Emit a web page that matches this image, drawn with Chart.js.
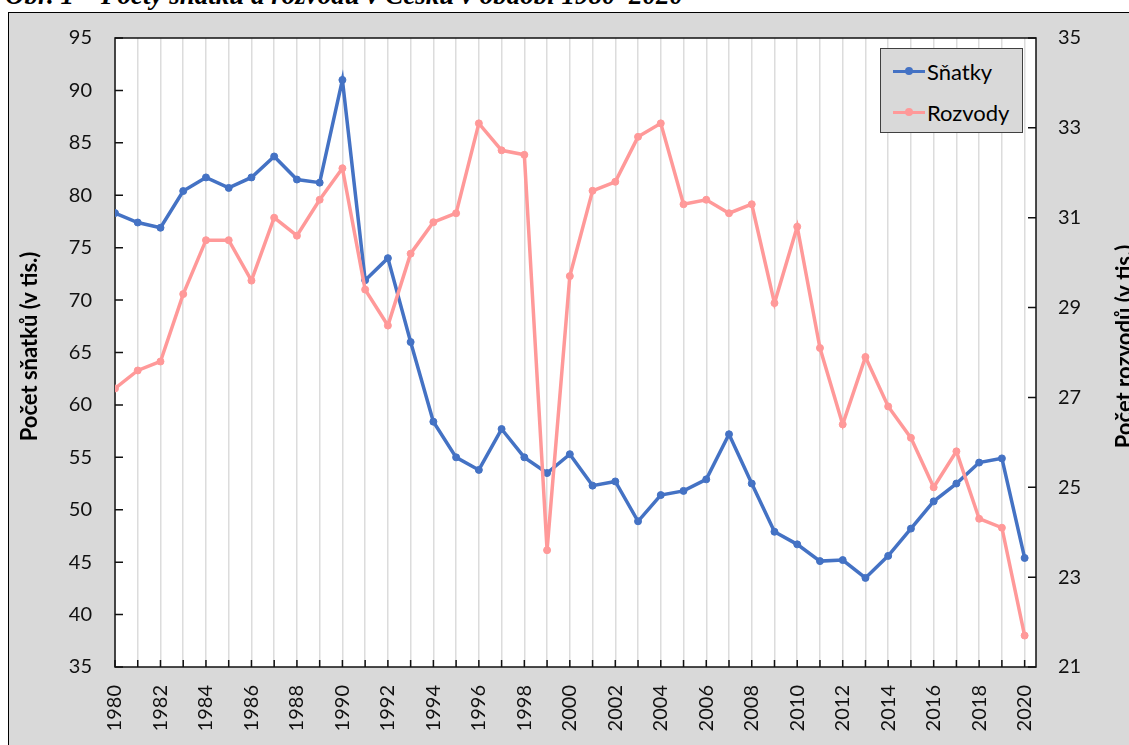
<!DOCTYPE html>
<html lang="cs">
<head>
<meta charset="utf-8">
<title>Sňatky a rozvody 1980–2020</title>
<script src="https://cdn.jsdelivr.net/npm/chart.js@4/dist/chart.umd.min.js"></script>
<style>
  html, body { margin: 0; padding: 0; width: 1129px; height: 745px; overflow: hidden; background: #fff; }
  #title { position: absolute; left: 5px; top: -18px; font: bold italic 27px/27px "Liberation Serif", serif; white-space: nowrap; color: #000; }
  #frame { position: absolute; left: 8px; top: 12px; width: 1200px; height: 800px; background: #d9d9d9; border: 1px solid #000; }
  #chart { position: absolute; left: 0; top: 0; }
  #legend { position: absolute; left: 880px; top: 48px; width: 141px; height: 83px; background: #d9d9d9; border: 1.5px solid #404040; font: 22px Lato, sans-serif; color: #000; }
  .item { position: absolute; left: 12px; height: 26px; display: flex; align-items: center; }
  .swatch { position: relative; width: 32px; height: 3px; margin-right: 2px; }
  .swatch i { position: absolute; left: 12px; top: -2.5px; width: 8px; height: 8px; border-radius: 50%; }
</style>
</head>
<body>
<div id="title">Obr. 1 – Počty sňatků a rozvodů v Česku v období 1980–2020</div>
<div id="frame"></div>
<canvas id="chart" width="1129" height="745"></canvas>
<div id="legend"></div>
<script>
// --- data (v tis.) ---
const years = [1980, 1981, 1982, 1983, 1984, 1985, 1986, 1987, 1988, 1989,
  1990, 1991, 1992, 1993, 1994, 1995, 1996, 1997, 1998, 1999,
  2000, 2001, 2002, 2003, 2004, 2005, 2006, 2007, 2008, 2009,
  2010, 2011, 2012, 2013, 2014, 2015, 2016, 2017, 2018, 2019, 2020];
const snatky = [78.3, 77.4, 76.9, 80.4, 81.7, 80.7, 81.7, 83.7, 81.5, 81.2,
  91.0, 71.9, 74.0, 66.0, 58.4, 55.0, 53.8, 57.7, 55.0, 53.5,
  55.3, 52.3, 52.7, 48.9, 51.4, 51.8, 52.9, 57.2, 52.5, 47.9,
  46.7, 45.1, 45.2, 43.5, 45.6, 48.2, 50.8, 52.5, 54.5, 54.9, 45.4];
const rozvody = [27.2, 27.6, 27.8, 29.3, 30.5, 30.5, 29.6, 31.0, 30.6, 31.4,
  32.1, 29.4, 28.6, 30.2, 30.9, 31.1, 33.1, 32.5, 32.4, 23.6,
  29.7, 31.6, 31.8, 32.8, 33.1, 31.3, 31.4, 31.1, 31.3, 29.1,
  30.8, 28.1, 26.4, 27.9, 26.8, 26.1, 25.0, 25.8, 24.3, 24.1, 21.7];
const leftRange = [35, 95, 5];   // min, max, step
const rightRange = [21, 35, 2];
const leftTitle = 'Počet sňatků (v tis.)';
const rightTitle = 'Počet rozvodů (v tis.)';

const BLUE = '#4472c4';
const PINK = '#ff9999';
const FONT = 'Lato, sans-serif';

// --- plot frame + inside tick marks ---
const plotFrame = {
  id: 'plotFrame',
  beforeDraw(chart) {
    const { ctx, chartArea: a } = chart;
    ctx.save();
    ctx.fillStyle = '#fff';
    ctx.fillRect(a.left, a.top, a.right - a.left, a.bottom - a.top);
    ctx.restore();
  },
  beforeDatasetsDraw(chart) {
    const { ctx, chartArea: a, scales } = chart;
    ctx.save();
    ctx.strokeStyle = '#111';
    ctx.lineWidth = 1.5;
    ctx.strokeRect(a.left, a.top, a.right - a.left, a.bottom - a.top);
    ctx.beginPath();
    scales.x.ticks.forEach(t => {
      const x = scales.x.getPixelForValue(t.value);
      ctx.moveTo(x, a.bottom); ctx.lineTo(x, a.bottom - 7);
    });
    scales.y.ticks.forEach(t => {
      const y = scales.y.getPixelForValue(t.value);
      ctx.moveTo(a.left, y); ctx.lineTo(a.left + 8, y);
    });
    scales.y2.ticks.forEach(t => {
      const y = scales.y2.getPixelForValue(t.value);
      ctx.moveTo(a.right, y); ctx.lineTo(a.right - 8, y);
    });
    ctx.stroke();
    ctx.restore();
  }
};

// --- axis titles, both read bottom to top ---
const axisTitles = {
  id: 'axisTitles',
  afterDraw(chart) {
    const { ctx, chartArea: a } = chart;
    const cy = (a.top + a.bottom) / 2 - 6;
    ctx.save();
    ctx.font = 'bold 22px ' + FONT;
    ctx.fillStyle = '#000';
    ctx.textAlign = 'center';
    ctx.textBaseline = 'middle';
    [[leftTitle, 30], [rightTitle, 1125]].forEach(([text, x]) => {
      ctx.save();
      ctx.translate(x, cy);
      ctx.rotate(-Math.PI / 2);
      ctx.fillText(text, 0, 0);
      ctx.restore();
    });
    ctx.restore();
  }
};

const tickFont = { family: FONT, size: 20 };

const chart = new Chart(document.getElementById('chart'), {
  type: 'line',
  data: {
    datasets: [
      {
        label: 'Sňatky',
        data: years.map((y, i) => ({ x: y, y: snatky[i] })),
        yAxisID: 'y',
        borderColor: BLUE, backgroundColor: BLUE,
        borderWidth: 3.5, pointRadius: 3.5, pointBorderWidth: 1,
        tension: 0, order: 1
      },
      {
        label: 'Rozvody',
        data: years.map((y, i) => ({ x: y, y: rozvody[i] })),
        yAxisID: 'y2',
        borderColor: PINK, backgroundColor: PINK,
        borderWidth: 3.5, pointRadius: 3.5, pointBorderWidth: 1,
        tension: 0, order: 0
      }
    ]
  },
  options: {
    responsive: false,
    animation: false,
    layout: { padding: { top: 38, left: 0, right: 0, bottom: 0 } },
    plugins: { legend: { display: false }, tooltip: { enabled: false } },
    scales: {
      x: {
        type: 'linear',
        min: years[0],
        max: years[years.length - 1] + 0.5,
        afterFit: s => { s.height = 78; },
        grid: { color: '#dcdcdc', lineWidth: 1.5, drawTicks: false },
        border: { display: false },
        ticks: {
          stepSize: 1, autoSkip: false, includeBounds: false,
          minRotation: 90, maxRotation: 90, padding: 18,
          font: tickFont, color: '#111',
          callback: v => (v % 2 === 0 ? String(v) : '')
        }
      },
      y: {
        position: 'left',
        min: leftRange[0], max: leftRange[1],
        afterFit: s => { s.width = 115; },
        grid: { display: false, drawTicks: false },
        border: { display: false },
        ticks: { stepSize: leftRange[2], padding: 23, font: tickFont, color: '#111' }
      },
      y2: {
        position: 'right',
        min: rightRange[0], max: rightRange[1],
        afterFit: s => { s.width = 93; },
        grid: { display: false, drawTicks: false },
        border: { display: false },
        ticks: { stepSize: rightRange[2], padding: 22, font: tickFont, color: '#111' }
      }
    }
  },
  plugins: [plotFrame, axisTitles]
});

// --- legend (inside plot, top right) ---
const legend = document.getElementById('legend');
chart.data.datasets.forEach((ds, i) => {
  const item = document.createElement('div');
  item.className = 'item';
  item.style.top = (9 + i * 41) + 'px';
  item.innerHTML = `<span class="swatch" style="background:${ds.borderColor}"><i style="background:${ds.borderColor}"></i></span>${ds.label}`;
  legend.appendChild(item);
});
</script>
</body>
</html>
